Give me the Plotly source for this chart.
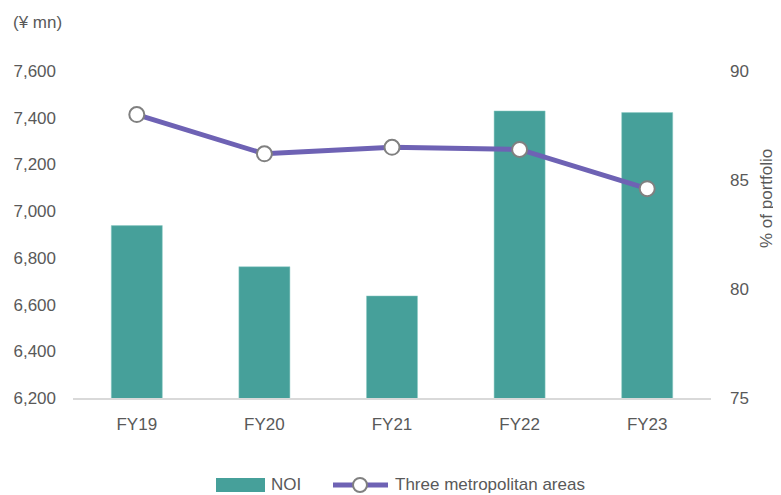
import plotly.graph_objects as go

categories = ["FY19", "FY20", "FY21", "FY22", "FY23"]
noi = [6938, 6762, 6637, 7429, 7422]
metro_pct = [88.0, 86.2, 86.5, 86.4, 84.6]

left_ticks = [6200, 6400, 6600, 6800, 7000, 7200, 7400, 7600]
right_ticks = [75, 80, 85, 90]

font_color = "#595959"
font_family = "Liberation Sans, Arial, sans-serif"
FS = 17
bar_color = "#46A09A"
line_color = "#6E62B4"

# page body has an 8px margin, so the figure is drawn 8px in from the corner
OFF = 8
W, H = 781 - OFF, 495 - OFF
L, R, T, B = 73 - OFF, 70, 71 - OFF, 97
pw, ph = W - L - R, H - T - B


def px(x):
    return (x - OFF - L) / pw


def py(y):
    return (H - B - (y - OFF)) / ph


fig = go.Figure()
fig.add_trace(go.Bar(
    x=categories, y=noi, name="NOI",
    marker=dict(color=bar_color, line=dict(color="#8FCCC6", width=0.5)),
    width=0.4, yaxis="y", showlegend=False
))
fig.add_trace(go.Scatter(
    x=categories, y=metro_pct, name="Three metropolitan areas",
    mode="lines+markers",
    line=dict(color=line_color, width=5),
    marker=dict(symbol="circle", size=15, color="white",
                line=dict(color="#808080", width=2)),
    yaxis="y2", showlegend=False
))

# legend drawn manually
shapes = [
    dict(type="rect", xref="paper", yref="paper",
         x0=px(216), x1=px(265), y0=py(492), y1=py(478),
         fillcolor=bar_color, line=dict(width=0)),
    dict(type="line", xref="paper", yref="paper",
         x0=px(333), x1=px(388), y0=py(485), y1=py(485),
         line=dict(color=line_color, width=5)),
    dict(type="circle", xref="paper", yref="paper",
         x0=px(353), x1=px(367), y0=py(492), y1=py(478),
         fillcolor="white", line=dict(color="#808080", width=2)),
]

annotations = [
    dict(text="(¥ mn)", xref="paper", yref="paper",
         x=px(11), y=py(22), xanchor="left", yanchor="middle",
         showarrow=False, font=dict(size=FS, color=font_color)),
    dict(text="% of portfolio", xref="paper", yref="paper",
         x=px(766), y=py(199), xanchor="center", yanchor="middle",
         textangle=-90, showarrow=False, font=dict(size=FS, color=font_color)),
    dict(text="NOI", xref="paper", yref="paper",
         x=px(269), y=py(484), xanchor="left", yanchor="middle",
         showarrow=False, font=dict(size=FS, color=font_color)),
    dict(text="Three metropolitan areas", xref="paper", yref="paper",
         x=px(393), y=py(484), xanchor="left", yanchor="middle",
         showarrow=False, font=dict(size=FS, color=font_color)),
]

fig.update_layout(
    width=W, height=H,
    margin=dict(l=L, r=R, t=T, b=B, autoexpand=False),
    plot_bgcolor="white", paper_bgcolor="white",
    font=dict(family=font_family, size=FS, color=font_color),
    showlegend=False,
    xaxis=dict(showline=True, linecolor="#D9D9D9", linewidth=1.5,
               ticks="", showgrid=False, tickfont=dict(size=FS),
               ticklabelstandoff=10, automargin=False),
    yaxis=dict(range=[6200, 7600], tickvals=left_ticks,
               tickformat=",d", showgrid=False, zeroline=False,
               ticks="", ticklabelstandoff=16, tickfont=dict(size=FS),
               automargin=False),
    yaxis2=dict(range=[75, 90], tickvals=right_ticks, overlaying="y",
                side="right", showgrid=False, zeroline=False, ticks="",
                ticklabelstandoff=18, tickfont=dict(size=FS),
                automargin=False),
    shapes=shapes,
    annotations=annotations,
)

fig.write_html("out.html")
